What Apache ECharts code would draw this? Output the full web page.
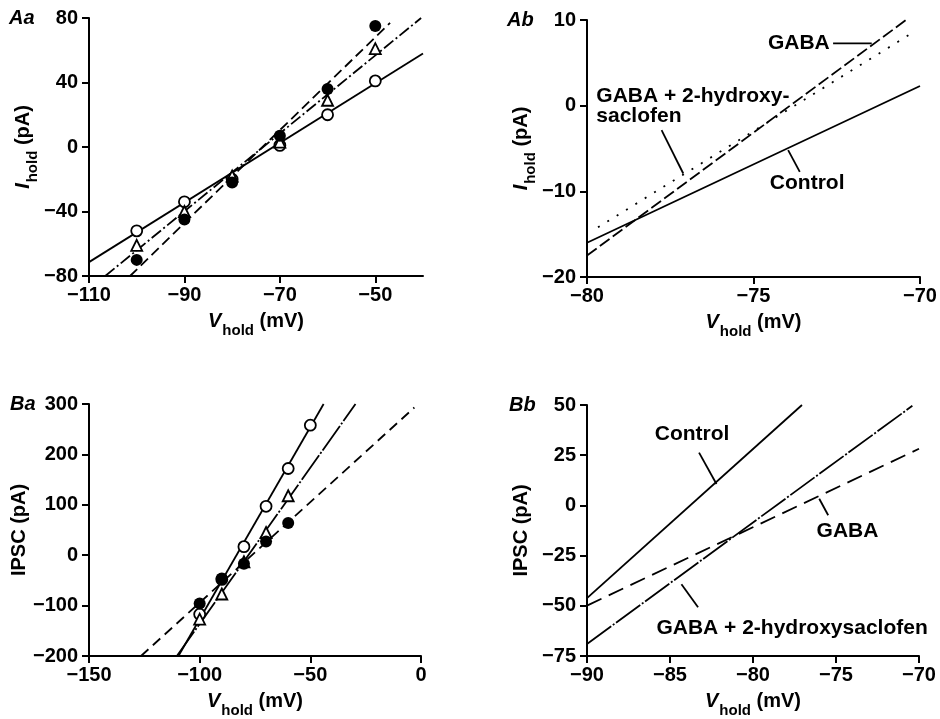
<!DOCTYPE html>
<html><head><meta charset="utf-8">
<script src="https://cdn.jsdelivr.net/npm/echarts@6/dist/echarts.min.js"></script>
<style>html,body{margin:0;padding:0;background:#fff}#c{width:940px;height:719px}</style>
</head><body><div id="c"></div>
<script>
// ---------- DATA ----------
// Panel Aa: I_hold vs V_hold (points)
const vAa = [-100, -90, -80, -70, -60, -50];
const aaControl = [-52, -34, -20, 1, 20, 41];
const aaGaba = [-70, -45, -22, 7, 36, 75];
const aaSaclofen = [-61, -40, -18, 3, 29, 61];
// Panel Aa fitted lines (end points)
const aaFitControlV = [-110, -40],  aaFitControlI = [-71.4, 58];
const aaFitGabaV = [-101.4, -46.9], aaFitGabaI = [-80, 77];
const aaFitSacV = [-106.6, -40.4],  aaFitSacI = [-80, 80];
const aaXTicks = [-110, -90, -70, -50];

// Panel Ab fitted lines
const abControlV = [-80, -70], abControlI = [-16, 2.3];
const abGabaV = [-80, -70.35], abGabaI = [-17.5, 10.2];
const abSacV = [-79.67, -70.25], abSacI = [-14.2, 8.45];

// Panel Ba: IPSC vs V_hold (points)
const vBaControl = [-100, -90, -80, -70, -60, -50];
const baControl = [-117, -48, 17, 97, 172, 258];
const vBaOther = [-100, -90, -80, -70, -60];
const baSaclofen = [-127, -77, -13, 45, 118];
const baGaba = [-96, -46, -17, 27, 64];
// Panel Ba fitted lines
const baFitControlV = [-109.6, -44], baFitControlI = [-200, 300];
const baFitSacV = [-110.3, -29.6],   baFitSacI = [-200, 300];
const baFitGabaV = [-126.5, -3],     baFitGabaI = [-200, 293];

// Panel Bb fitted lines
const bbControlV = [-90, -77.05], bbControlI = [-46.2, 50];
const bbSacV = [-90, -70.4],      bbSacI = [-69, 49.6];
const bbGabaV = [-90, -70],       bbGabaI = [-49.9, 28.2];

// Annotation texts
const abLabels = ['GABA', 'GABA + 2-hydroxy-\nsaclofen', 'Control'];
const bbLabels = ['Control', 'GABA', 'GABA + 2-hydroxysaclofen'];
const panelLabels = ['Aa', 'Ab', 'Ba', 'Bb'];

// ---------- HELPERS ----------
const FONT = "'Liberation Sans', Arial, Helvetica, sans-serif";
const BLACK = '#000';
const zip = (a, b) => a.map((v, i) => [v, b[i]]);
const minus = v => String(v).replace('-', '\u2212');

function richName() {
  return {
    v: {fontFamily: FONT, fontSize: 20, fontWeight: 'bold', fontStyle: 'italic', color: BLACK, lineHeight: 24, verticalAlign: 'top'},
    s: {fontFamily: FONT, fontSize: 15, fontWeight: 'bold', color: BLACK, lineHeight: 16, padding: [12, 0, 0, 1], verticalAlign: 'top'},
    n: {fontFamily: FONT, fontSize: 20, fontWeight: 'bold', color: BLACK, lineHeight: 24, verticalAlign: 'top'}
  };
}
function xAxis(gi, min, max, opts) {
  return Object.assign({
    type: 'value', gridIndex: gi, min, max,
    name: '{v|V}{s|hold}{n| (mV)}', nameLocation: 'middle', nameGap: 35,
    nameTextStyle: {rich: richName()},
    axisLine: {show: true, onZero: false, lineStyle: {color: BLACK, width: 2}},
    axisTick: {show: true, inside: false, length: 7, lineStyle: {color: BLACK, width: 2}},
    axisLabel: {fontFamily: FONT, fontSize: 20, fontWeight: 'bold', color: BLACK, margin: 9, formatter: minus},
    splitLine: {show: false}
  }, opts || {});
}
function yAxis(gi, min, max, interval, nameBase) {
  return {
    type: 'value', gridIndex: gi, min, max, interval,
    name: nameBase, nameLocation: 'middle', nameGap: 52,
    nameTextStyle: {rich: richName()},
    axisLine: {show: true, onZero: false, lineStyle: {color: BLACK, width: 2}},
    axisTick: {show: true, inside: false, length: 7, lineStyle: {color: BLACK, width: 2}},
    axisLabel: {fontFamily: FONT, fontSize: 20, fontWeight: 'bold', color: BLACK, margin: 11, formatter: minus},
    splitLine: {show: false}
  };
}
function line(gi, vx, vy, type, width) {
  return {
    type: 'line', xAxisIndex: gi, yAxisIndex: gi, data: zip(vx, vy),
    showSymbol: false, symbol: 'none', silent: true, z: 2,
    lineStyle: {color: BLACK, width: width || 1.8, type: type || 'solid', opacity: 1}
  };
}
function pts(gi, vx, vy, kind) {
  const open = {color: '#fff', borderColor: BLACK, borderWidth: 1.8, opacity: 1};
  const filled = {color: BLACK, borderColor: BLACK, borderWidth: 0, opacity: 1};
  return {
    type: 'scatter', xAxisIndex: gi, yAxisIndex: gi, data: zip(vx, vy), silent: true, z: 5,
    symbol: kind === 'tri' ? 'triangle' : 'circle',
    symbolSize: kind === 'filled' ? 12 : 11,
    itemStyle: kind === 'filled' ? filled : open
  };
}

const DASH_DOT = [12, 3, 2, 3];
const DENSE_DASH_DOT = [30, 2, 2, 2];

const option = {
  animation: false,
  backgroundColor: '#fff',
  grid: [
    {left: 89, top: 18, width: 334, height: 258},
    {left: 587, top: 20, width: 333, height: 257},
    {left: 89, top: 404, width: 332, height: 255},
    {left: 587, top: 405, width: 332, height: 254}
  ],
  xAxis: [
    xAxis(0, -110, -40, {
      axisLabel: {fontFamily: FONT, fontSize: 20, fontWeight: 'bold', color: BLACK, margin: 9, formatter: minus, customValues: aaXTicks},
      axisTick: {show: true, length: 7, lineStyle: {color: BLACK, width: 2}, customValues: aaXTicks}
    }),
    xAxis(1, -80, -70, {interval: 5}),
    xAxis(2, -150, 0, {interval: 50}),
    xAxis(3, -90, -70, {interval: 5})
  ],
  yAxis: [
    yAxis(0, -80, 80, 40, '{v|I}{s|hold}{n| (pA)}'),
    yAxis(1, -20, 10, 10, '{v|I}{s|hold}{n| (pA)}'),
    yAxis(2, -200, 300, 100, '{n|IPSC (pA)}'),
    yAxis(3, -75, 50, 25, '{n|IPSC (pA)}')
  ],
  series: [
    // Aa
    line(0, aaFitControlV, aaFitControlI, 'solid'),
    line(0, aaFitGabaV, aaFitGabaI, [10, 5]),
    line(0, aaFitSacV, aaFitSacI, DASH_DOT),
    pts(0, vAa, aaControl, 'open'),
    pts(0, vAa, aaSaclofen, 'tri'),
    pts(0, vAa, aaGaba, 'filled'),
    // Ab
    line(1, abControlV, abControlI, 'solid'),
    line(1, abGabaV, abGabaI, [12, 4]),
    line(1, abSacV, abSacI, [2, 9]),
    // Ba
    line(2, baFitControlV, baFitControlI, 'solid'),
    line(2, baFitSacV, baFitSacI, DENSE_DASH_DOT),
    line(2, baFitGabaV, baFitGabaI, [10, 6]),
    pts(2, vBaControl, baControl, 'open'),
    pts(2, vBaOther, baSaclofen, 'tri'),
    pts(2, vBaOther, baGaba, 'filled'),
    // Bb
    line(3, bbControlV, bbControlI, 'solid'),
    line(3, bbSacV, bbSacI, DENSE_DASH_DOT),
    line(3, bbGabaV, bbGabaI, [16, 8])
  ]
};

// Annotation anchors (data coordinates of each panel)
const abAnn = [
  {text: abLabels[0], at: [-72.71, 7.28], align: 'right', leader: [[-72.61, 7.28], [-71.45, 7.28]]},
  {text: abLabels[1], at: [-79.72, -0.1], align: 'left', leader: [[-77.76, -2.86], [-77.11, -7.92]]},
  {text: abLabels[2], at: [-74.51, -9.05], align: 'left', leader: [[-73.61, -7.73], [-73.96, -5.19]]}
];
const bbAnn = [
  {text: bbLabels[0], at: [-85.92, 35.25], align: 'left', leader: [[-83.25, 26.26], [-82.20, 10.68]]},
  {text: bbLabels[1], at: [-76.17, -12.92], align: 'left', leader: [[-76.01, 3.30], [-75.47, -4.91]]},
  {text: bbLabels[2], at: [-85.82, -61.4], align: 'left', leader: [[-84.31, -39.3], [-83.31, -50.77]]}
];
[[1, abAnn], [3, bbAnn]].forEach(([gi, list]) => {
  list.forEach(a => {
    option.series.push({
      type: 'line', xAxisIndex: gi, yAxisIndex: gi, data: a.leader, showSymbol: false, symbol: 'none', silent: true,
      lineStyle: {color: BLACK, width: 1.8}, z: 3
    });
  });
});

const chart = echarts.init(document.getElementById('c'), null, {renderer: 'canvas'});
chart.setOption(option);

const graphics = [];
[[1, abAnn], [3, bbAnn]].forEach(([gi, list]) => {
  list.forEach(a => {
    const p = chart.convertToPixel({gridIndex: gi}, a.at);
    graphics.push({
      type: 'text', x: p[0], y: p[1], z: 10,
      style: {text: a.text, fill: BLACK, font: 'bold 21px ' + FONT, align: a.align, verticalAlign: 'middle', lineHeight: 20}
    });
  });
});
const panelPos = [[9, 18], [507, 20], [10, 404], [509, 405]];
panelLabels.forEach((t, i) => {
  graphics.push({
    type: 'text', x: panelPos[i][0], y: panelPos[i][1], z: 10,
    style: {text: t, fill: BLACK, font: 'italic bold 20px ' + FONT, align: 'left', verticalAlign: 'middle'}
  });
});
chart.setOption({graphic: graphics});
</script>
</body></html>
